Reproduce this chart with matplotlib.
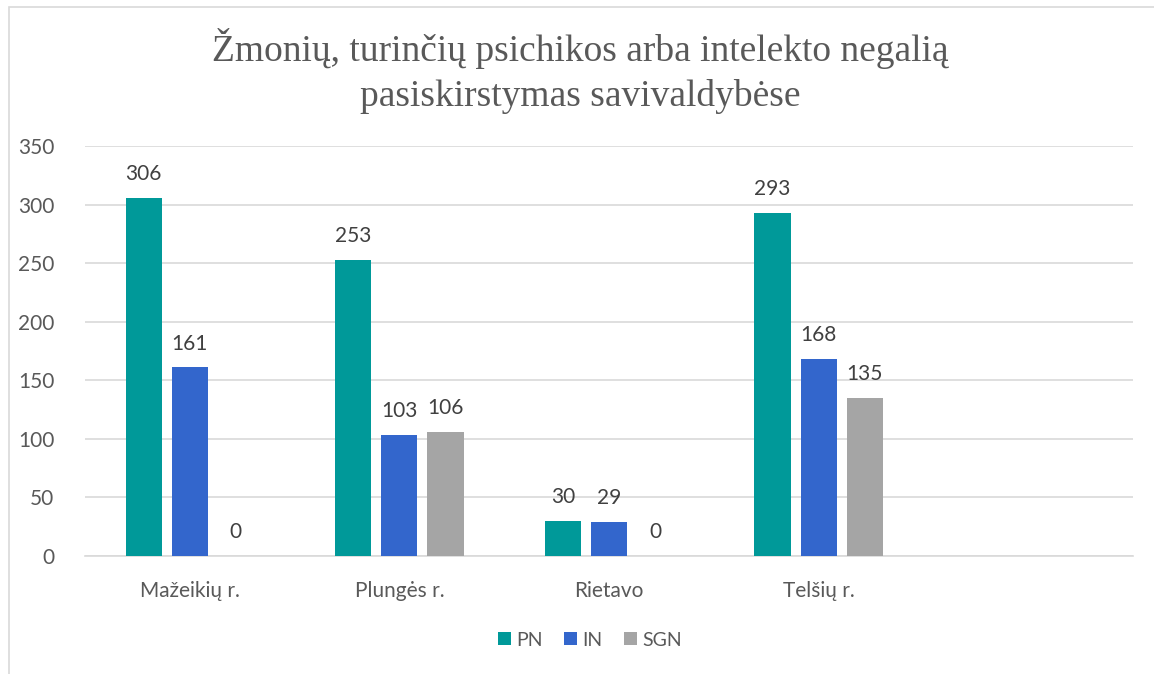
import numpy as np
import matplotlib.pyplot as plt
from matplotlib.patches import Rectangle

categories = ['Mažeikių r.', 'Plungės r.', 'Rietavo', 'Telšių r.', '']
pn = [306, 253, 30, 293]
in_ = [161, 103, 29, 168]
sgn = [0, 106, 0, 135]

series = [('PN', pn, '#009999'), ('IN', in_, '#3366CC'), ('SGN', sgn, '#A5A5A5')]

plt.rcParams['font.family'] = ['Lato', 'DejaVu Sans']
text_color = '#595959'

fig = plt.figure(figsize=(11.54, 6.74), dpi=100)
ax = fig.add_axes([85 / 1154, 1 - 556 / 674, (1133 - 85) / 1154, (556 - 146) / 674])

# chart frame
fig.patches.append(Rectangle((9 / 1154, -0.1), 1.2, 1 - 7 / 674 + 0.1, transform=fig.transFigure,
                             fill=False, edgecolor='#D9D9D9', linewidth=1.2))

x = np.arange(4)
width = 0.172
step = 0.22
for i, (name, vals, color) in enumerate(series):
    pos = x + (i - 1) * step
    ax.bar(pos, vals, width, color=color, label=name, zorder=3)
    for p, v in zip(pos, vals):
        ax.annotate(str(v), (p, v), xytext=(0, 10), textcoords='offset points',
                    ha='center', va='bottom', fontsize=15, color='#404040')

ax.set_xlim(-0.5, 4.5)
ax.set_ylim(0, 350)
ax.set_yticks(range(0, 351, 50))
ax.set_xticks(range(5))
ax.set_xticklabels(categories)
ax.grid(axis='y', color='#D9D9D9', linewidth=1.2, zorder=0)
for s in ax.spines.values():
    s.set_visible(False)
ax.spines['bottom'].set_visible(True)
ax.spines['bottom'].set_color('#D9D9D9')
ax.spines['bottom'].set_linewidth(1.2)
ax.tick_params(length=0, labelsize=15, colors=text_color)
ax.tick_params(axis='x', pad=18)
ax.tick_params(axis='y', pad=22)

fig.text(0.5 + 3 / 1154, 1 - 71 / 674, 'Žmonių, turinčių psichikos arba intelekto negalią\npasiskirstymas savivaldybėse',
         ha='center', va='center', fontsize=27, color=text_color, family='Liberation Serif', linespacing=1.35)

ax.legend(loc='center', bbox_to_anchor=(0.482, (556 - 640) / 410), ncol=3, frameon=False,
          fontsize=14, labelcolor=text_color, handlelength=0.65, handleheight=0.65,
          handletextpad=0.3, columnspacing=1.1)

fig.savefig('out.png', dpi=100)
